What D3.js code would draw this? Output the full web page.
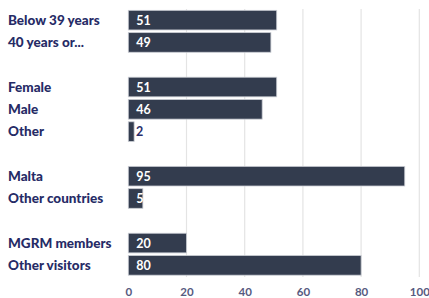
<!DOCTYPE html>
<html><head><meta charset="utf-8">
<script src="https://cdn.jsdelivr.net/npm/d3@7"></script>
<style>body{margin:0;background:#fff;}svg{display:block;}</style>
</head><body>
<svg id="c" width="429" height="298"></svg>
<script>
const categories = ["Below 39 years","40 years or...","_gap1","Female","Male","Other","_gap2","Malta","Other countries","_gap3","MGRM members","Other visitors"];
const values = [51,49,null,51,46,2,null,95,5,null,20,80];
const xTicks = [0,20,40,60,80,100];

const svg = d3.select("#c");
const x = d3.scaleLinear().domain([0,100]).range([128.3,419.3]);
const y = d3.scaleBand().domain(categories).range([9,276.5]).paddingInner(0.12).paddingOuter(0.06);

const data = categories.map((c,i)=>({c, v: values[i]})).filter(d=>d.v!==null);

// gridlines
svg.append("g").selectAll("line").data(xTicks.slice(1)).join("line")
  .attr("x1",d=>x(d)).attr("x2",d=>x(d)).attr("y1",9).attr("y2",277)
  .attr("stroke","#e4e4e4").attr("stroke-width",1.2);

// x axis labels
const xa = svg.append("g").attr("transform","translate(0,288)")
  .call(d3.axisBottom(x).tickValues(xTicks).tickSize(0).tickPadding(0));
xa.select(".domain").remove();
xa.selectAll("text").attr("fill","#565a80").attr("font-family","Lato, 'Open Sans', sans-serif")
  .attr("font-weight","bold").attr("font-size","11.5px").attr("dy","0.71em");

// bars
svg.append("g").selectAll("rect").data(data).join("rect")
  .attr("x",x(0)).attr("y",d=>y(d.c)).attr("width",d=>x(d.v)-x(0)).attr("height",y.bandwidth())
  .attr("fill","#333c4e").attr("stroke","#c9ccd3").attr("stroke-width",0.8);

// values
svg.append("g").selectAll("text").data(data).join("text")
  .attr("x",d=> d.v>=5 ? x(0)+8 : x(d.v)+2)
  .attr("y",d=>y(d.c)+y.bandwidth()/2).attr("dy","0.36em")
  .attr("fill",d=> d.v>=5 ? "#ffffff" : "#2b2f6a")
  .attr("font-family","Lato, 'Open Sans', sans-serif").attr("font-weight","bold").attr("font-size","12.5px")
  .text(d=>d.v);

// category labels
svg.append("g").selectAll("text").data(data).join("text")
  .attr("x",8).attr("y",d=>y(d.c)+y.bandwidth()/2).attr("dy","0.36em")
  .attr("fill","#262b66").attr("font-family","Lato, 'Open Sans', sans-serif")
  .attr("font-weight","900").attr("font-size","13.5px")
  .text(d=>d.c);
</script>
</body></html>
